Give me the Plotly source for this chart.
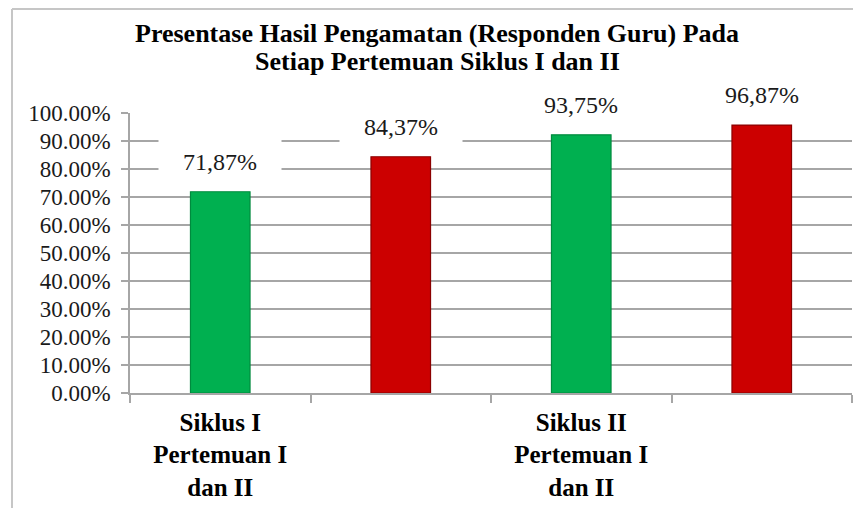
import plotly.graph_objects as go

categories = ["Siklus I Pertemuan I", "Siklus I Pertemuan II",
              "Siklus II Pertemuan I", "Siklus II Pertemuan II"]
tick_labels = ["<b>Siklus I<br>Pertemuan I<br>dan II</b>", "",
               "<b>Siklus II<br>Pertemuan I<br>dan II</b>", ""]
values = [71.87, 84.37, 92.2, 95.7]
value_labels = ["71,87%", "84,37%", "93,75%", "96,87%"]
bar_colors = ["#00B050", "#CC0000", "#00B050", "#CC0000"]
edge_colors = ["#008A3E", "#8B0000", "#008A3E", "#8B0000"]
title_lines = ["Presentase Hasil Pengamatan (Responden Guru) Pada",
               "Setiap Pertemuan Siklus I dan II"]

SERIF = "Liberation Serif"
GRAY = "#a6a6a6"

fig = go.Figure()
fig.add_trace(go.Bar(
    x=categories, y=values, width=0.33,
    marker=dict(color=bar_colors, line=dict(color=edge_colors, width=1.2)),
    hoverinfo="skip",
))

# page has an 8px body margin; figure is sized/offset to compensate
OFF = 8
W, H = 861 - OFF, 508 - OFF
L, R, T, B = 130 - OFF, 9, 113 - OFF, 115
pw, ph = W - L - R, H - T - B

annotations = []
for c, v, t in zip(categories, values, value_labels):
    annotations.append(dict(
        x=c, y=v, xref="x", yref="y", text=t, showarrow=False,
        yanchor="middle", yshift=30, width=120, height=46,
        bgcolor="white", font=dict(family=SERIF, size=24, color="#1a1a1a"),
    ))

title_centers_px = [34 - OFF, 62 - OFF]
for line, cy in zip(title_lines, title_centers_px):
    annotations.append(dict(
        x=(437 - OFF - L) / pw, y=(H - B - cy) / ph, xref="paper", yref="paper",
        text="<b>" + line + "</b>", showarrow=False,
        xanchor="center", yanchor="middle",
        font=dict(family=SERIF, size=26, color="black"),
    ))

bx, by = 12 - OFF, 9 - OFF
shapes = [
    dict(type="line", xref="paper", yref="paper",
         x0=(bx - L) / pw, x1=(W + 10 - L) / pw,
         y0=(H - B - by) / ph, y1=(H - B - by) / ph,
         line=dict(color="#c6c6c6", width=2)),
    dict(type="line", xref="paper", yref="paper",
         x0=(bx - L) / pw, x1=(bx - L) / pw,
         y0=(H - B - by) / ph, y1=(H - B - H - 10) / ph,
         line=dict(color="#c6c6c6", width=2)),
]

fig.update_layout(
    width=W, height=H,
    margin=dict(l=L, r=R, t=T, b=B, pad=0, autoexpand=False),
    paper_bgcolor="white", plot_bgcolor="white",
    showlegend=False,
    font=dict(family=SERIF),
    annotations=annotations,
    shapes=shapes,
    xaxis=dict(
        type="category", tickmode="array", tickvals=categories, ticktext=tick_labels,
        tickson="boundaries", ticks="outside", ticklen=8, tickcolor=GRAY, tickwidth=1.5,
        showline=True, linecolor=GRAY, linewidth=1.5, showgrid=False,
        tickfont=dict(family=SERIF, size=25, color="black"),
        range=[-0.5, 3.5], automargin=False, ticklabelstandoff=6,
    ),
    yaxis=dict(
        range=[0, 100], dtick=10, tick0=0, tickformat=".2f", ticksuffix="%",
        ticks="outside", ticklen=7, tickcolor=GRAY, tickwidth=1.5,
        showline=True, linecolor=GRAY, linewidth=1.5,
        showgrid=True, gridcolor=GRAY, gridwidth=1.5, zeroline=False,
        tickfont=dict(family=SERIF, size=23, color="#1a1a1a"),
        ticklabelstandoff=6, automargin=False,
    ),
)
fig.write_html("out.html")
